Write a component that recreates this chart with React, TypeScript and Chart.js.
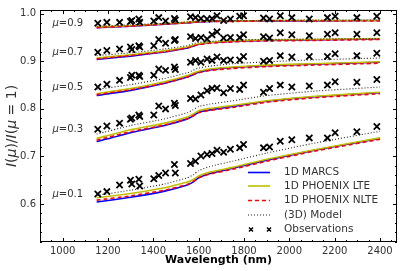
import React, { useEffect, useRef } from 'react';
import { Chart, registerables } from 'chart.js';

Chart.register(...registerables);

// ---------- data ----------
const MODEL_WL = [1150, 1300, 1450, 1550, 1575, 1600, 1650, 1750, 1900, 2100, 2400];

const MARCS_MU01 = [0.604, 0.614, 0.627, 0.640, 0.646, 0.655, 0.664, 0.675, 0.692, 0.712, 0.738];
const MARCS_MU03 = [0.731, 0.750, 0.765, 0.779, 0.785, 0.793, 0.798, 0.805, 0.816, 0.825, 0.834];
const MARCS_MU05 = [0.828, 0.839, 0.854, 0.867, 0.872, 0.877, 0.882, 0.887, 0.891, 0.894, 0.898];
const MARCS_MU07 = [0.904, 0.911, 0.920, 0.928, 0.932, 0.936, 0.939, 0.942, 0.944, 0.945, 0.947];
const MARCS_MU09 = [0.971, 0.974, 0.978, 0.981, 0.982, 0.983, 0.984, 0.985, 0.985, 0.985, 0.986];

const LTE_MU01 = [0.613, 0.622, 0.634, 0.646, 0.651, 0.659, 0.667, 0.677, 0.694, 0.713, 0.739];
const LTE_MU03 = [0.738, 0.756, 0.770, 0.783, 0.789, 0.796, 0.801, 0.807, 0.817, 0.826, 0.835];
const LTE_MU05 = [0.832, 0.843, 0.857, 0.870, 0.875, 0.879, 0.884, 0.888, 0.892, 0.895, 0.899];
const LTE_MU07 = [0.907, 0.914, 0.922, 0.930, 0.934, 0.937, 0.940, 0.943, 0.945, 0.946, 0.948];
const LTE_MU09 = [0.972, 0.975, 0.979, 0.982, 0.983, 0.984, 0.985, 0.985, 0.986, 0.986, 0.986];

const NLTE_MU01 = [0.608, 0.617, 0.629, 0.641, 0.647, 0.655, 0.663, 0.673, 0.690, 0.710, 0.736];
const NLTE_MU03 = [0.734, 0.752, 0.766, 0.779, 0.785, 0.792, 0.797, 0.803, 0.814, 0.823, 0.832];
const NLTE_MU05 = [0.830, 0.840, 0.854, 0.867, 0.872, 0.876, 0.881, 0.885, 0.889, 0.892, 0.896];
const NLTE_MU07 = [0.905, 0.912, 0.920, 0.928, 0.932, 0.935, 0.938, 0.941, 0.943, 0.944, 0.946];
const NLTE_MU09 = [0.971, 0.974, 0.978, 0.981, 0.982, 0.983, 0.984, 0.984, 0.985, 0.985, 0.985];

const M3D_MU01 = [0.618, 0.629, 0.642, 0.655, 0.661, 0.670, 0.679, 0.690, 0.707, 0.727, 0.753];
const M3D_MU03 = [0.747, 0.765, 0.779, 0.792, 0.798, 0.805, 0.810, 0.817, 0.828, 0.837, 0.846];
const M3D_MU05 = [0.841, 0.851, 0.864, 0.876, 0.881, 0.886, 0.890, 0.895, 0.899, 0.903, 0.907];
const M3D_MU07 = [0.912, 0.918, 0.926, 0.933, 0.937, 0.940, 0.942, 0.945, 0.946, 0.947, 0.948];
const M3D_MU09 = [0.974, 0.977, 0.980, 0.983, 0.984, 0.985, 0.986, 0.986, 0.986, 0.987, 0.987];

const OBS_WL = [1155, 1195, 1251, 1299, 1305, 1336, 1340, 1402, 1424, 1454, 1493, 1497, 1564, 1586,
  1610, 1637, 1659, 1681, 1710, 1740, 1781, 1798, 1886, 1913, 1960, 2011, 2088, 2168, 2202, 2298, 2386];

const OBS_MU01 = [0.621, 0.626, 0.640, 0.650, 0.642, 0.652, 0.638, 0.653, 0.660, 0.665, 0.683, 0.665, 0.685, 0.690,
  0.701, 0.704, 0.706, 0.713, 0.709, 0.715, 0.718, 0.725, 0.718, 0.720, 0.732, 0.735, 0.739, 0.739, 0.750, 0.752, 0.763];
const OBS_MU03 = [0.757, 0.764, 0.770, 0.778, 0.781, 0.787, 0.784, 0.787, 0.806, 0.800, 0.812, 0.807, 0.822, 0.821,
  0.829, 0.838, 0.843, 0.844, 0.834, 0.843, 0.841, 0.850, 0.835, 0.843, 0.850, 0.846, 0.848, 0.850, 0.857, 0.856, 0.862];
const OBS_MU05 = [0.846, 0.852, 0.860, 0.866, 0.871, 0.871, 0.868, 0.871, 0.884, 0.881, 0.888, 0.883, 0.898, 0.902,
  0.898, 0.905, 0.902, 0.909, 0.902, 0.903, 0.903, 0.910, 0.900, 0.902, 0.912, 0.909, 0.910, 0.910, 0.916, 0.912, 0.917];
const OBS_MU07 = [0.919, 0.923, 0.926, 0.930, 0.925, 0.933, 0.930, 0.933, 0.946, 0.938, 0.944, 0.946, 0.952, 0.948,
  0.950, 0.947, 0.956, 0.962, 0.949, 0.950, 0.950, 0.956, 0.952, 0.949, 0.960, 0.956, 0.954, 0.957, 0.960, 0.957, 0.960];
const OBS_MU09 = [0.980, 0.982, 0.982, 0.984, 0.986, 0.989, 0.982, 0.985, 0.992, 0.985, 0.990, 0.987, 0.994, 0.992,
  0.990, 0.989, 0.990, 0.996, 0.986, 0.989, 0.995, 0.996, 0.991, 0.989, 0.996, 0.992, 0.989, 0.992, 0.995, 0.992, 0.995];

const MU_VALUES = ['0.1', '0.3', '0.5', '0.7', '0.9'];
const X_TICKS = [1000, 1200, 1400, 1600, 1800, 2000, 2200, 2400];
const Y_TICKS = [0.6, 0.7, 0.8, 0.9, 1.0];
const LEGEND_LABELS = ['1D MARCS', '1D PHOENIX LTE', '1D PHOENIX NLTE', '(3D) Model', 'Observations'];

const MARCS = [MARCS_MU01, MARCS_MU03, MARCS_MU05, MARCS_MU07, MARCS_MU09];
const LTE = [LTE_MU01, LTE_MU03, LTE_MU05, LTE_MU07, LTE_MU09];
const NLTE = [NLTE_MU01, NLTE_MU03, NLTE_MU05, NLTE_MU07, NLTE_MU09];
const M3D = [M3D_MU01, M3D_MU03, M3D_MU05, M3D_MU07, M3D_MU09];
const OBS = [OBS_MU01, OBS_MU03, OBS_MU05, OBS_MU07, OBS_MU09];

// ---------- style ----------
const FONT = "'DejaVu Sans', 'Liberation Sans', sans-serif";
const TEXT = '#333333';
const C_BLUE = '#0000ff';
const C_YEL = '#bfbf00';
const C_RED = '#ff0000';
const C_BLACK = '#000000';

const pts = (xs: number[], ys: number[]) => xs.map((x, i) => ({ x, y: ys[i] }));

function buildDatasets() {
  const ds: any[] = [];
  for (let m = 0; m < MU_VALUES.length; m++) {
    ds.push({ label: 'MARCS', data: pts(MODEL_WL, MARCS[m]), borderColor: C_BLUE, borderWidth: 1.6, pointRadius: 0, showLine: true, tension: 0.15, order: 5 });
    ds.push({ label: 'LTE', data: pts(MODEL_WL, LTE[m]), borderColor: C_YEL, borderWidth: 1.6, pointRadius: 0, showLine: true, tension: 0.15, order: 4 });
    ds.push({ label: 'NLTE', data: pts(MODEL_WL, NLTE[m]), borderColor: C_RED, borderWidth: 1.6, borderDash: [4, 3], pointRadius: 0, showLine: true, tension: 0.15, order: 3 });
    ds.push({ label: '3D', data: pts(MODEL_WL, M3D[m]), borderColor: '#222', borderWidth: 1.1, borderDash: [1, 2], pointRadius: 0, showLine: true, tension: 0.15, order: 2 });
    ds.push({ label: 'Obs', data: pts(OBS_WL, OBS[m]), showLine: false, pointStyle: 'crossRot', pointRadius: 4.4, borderColor: C_BLACK, backgroundColor: C_BLACK, pointBorderWidth: 1.8, order: 1 });
  }
  return ds;
}

function drawCross(ctx: CanvasRenderingContext2D, x: number, y: number, h: number) {
  ctx.beginPath();
  ctx.moveTo(x - h, y - h); ctx.lineTo(x + h, y + h);
  ctx.moveTo(x - h, y + h); ctx.lineTo(x + h, y - h);
  ctx.stroke();
}

const decorPlugin = {
  id: 'decor',
  afterDraw(chart: any) {
    const ctx: CanvasRenderingContext2D = chart.ctx;
    const { left, right, top, bottom } = chart.chartArea;
    const xs = chart.scales.x;
    const ys = chart.scales.y;
    ctx.save();
    // frame
    ctx.strokeStyle = '#000';
    ctx.lineWidth = 1;
    ctx.strokeRect(left + 0.5, top + 0.5, right - left - 1, bottom - top - 1);
    // ticks (inside, all four sides)
    ctx.beginPath();
    for (let v = 900; v <= 2475; v += 50) {
      const p = Math.round(xs.getPixelForValue(v)) + 0.5;
      const major = X_TICKS.includes(v);
      const len = major ? 4 : 2;
      ctx.moveTo(p, bottom); ctx.lineTo(p, bottom - len);
      ctx.moveTo(p, top); ctx.lineTo(p, top + len);
    }
    for (let k = 26; k <= 50; k++) {
      const v = k * 0.02;
      const p = Math.round(ys.getPixelForValue(v)) + 0.5;
      const major = k % 5 === 0;
      const len = major ? 4 : 2;
      ctx.moveTo(left, p); ctx.lineTo(left + len, p);
      ctx.moveTo(right, p); ctx.lineTo(right - len, p);
    }
    ctx.stroke();

    // mu labels
    ctx.fillStyle = TEXT;
    ctx.textBaseline = 'middle';
    ctx.textAlign = 'left';
    const lx = xs.getPixelForValue(955);
    for (let m = 0; m < MU_VALUES.length; m++) {
      const y = ys.getPixelForValue(OBS[m][0]);
      ctx.font = `italic 10px ${FONT}`;
      ctx.fillText('μ', lx, y);
      const w = ctx.measureText('μ').width;
      ctx.font = `10px ${FONT}`;
      ctx.fillText('=' + MU_VALUES[m], lx + w, y);
    }

    // y axis title (mixed italics), rotated
    ctx.save();
    ctx.translate(12, (top + bottom) / 2);
    ctx.rotate(-Math.PI / 2);
    const parts: [string, boolean][] = [['I', true], ['(', false], ['μ', true], [')/', false], ['I', true], ['(', false], ['μ', true], [' = 1)', false]];
    let total = 0;
    for (const [t, it] of parts) {
      ctx.font = `${it ? 'italic ' : ''}14px ${FONT}`;
      total += ctx.measureText(t).width;
    }
    let cx = -total / 2;
    ctx.textAlign = 'left';
    ctx.fillStyle = TEXT;
    for (const [t, it] of parts) {
      ctx.font = `${it ? 'italic ' : ''}14px ${FONT}`;
      ctx.fillText(t, cx, 0);
      cx += ctx.measureText(t).width;
    }
    ctx.restore();

    // legend
    const hx0 = right - 149;
    const hx1 = right - 127;
    const tx = right - 113;
    const rowY = [bottom - 69.5, bottom - 56, bottom - 41.5, bottom - 27, bottom - 12.5];
    const styles = [
      { c: C_BLUE, d: [] as number[], w: 1.6 },
      { c: C_YEL, d: [] as number[], w: 1.6 },
      { c: C_RED, d: [4, 3], w: 1.6 },
      { c: '#222', d: [1, 2], w: 1.1 },
    ];
    for (let i = 0; i < 4; i++) {
      ctx.strokeStyle = styles[i].c;
      ctx.lineWidth = styles[i].w;
      ctx.setLineDash(styles[i].d);
      ctx.beginPath();
      ctx.moveTo(hx0, rowY[i]); ctx.lineTo(hx1, rowY[i]);
      ctx.stroke();
    }
    ctx.setLineDash([]);
    ctx.strokeStyle = '#000';
    ctx.lineWidth = 1.5;
    drawCross(ctx, hx0 + 3, rowY[4], 2);
    drawCross(ctx, hx1 - 1, rowY[4], 2);
    ctx.fillStyle = TEXT;
    ctx.font = `10.5px ${FONT}`;
    ctx.textAlign = 'left';
    ctx.textBaseline = 'middle';
    for (let i = 0; i < LEGEND_LABELS.length; i++) {
      ctx.fillText(LEGEND_LABELS[i], tx, rowY[i]);
    }
    ctx.restore();
  },
};

export default function App() {
  const ref = useRef<HTMLCanvasElement | null>(null);
  useEffect(() => {
    if (!ref.current) return;
    const chart = new Chart(ref.current, {
      type: 'scatter',
      data: { datasets: buildDatasets() },
      options: {
        animation: false,
        responsive: false,
        devicePixelRatio: 1,
        layout: { padding: { left: 0, right: 10, top: 7, bottom: 0 } },
        plugins: { legend: { display: false }, tooltip: { enabled: false } },
        scales: {
          x: {
            type: 'linear',
            min: 900,
            max: 2475,
            grid: { display: false, drawTicks: false },
            border: { display: false },
            afterBuildTicks: (s: any) => { s.ticks = X_TICKS.map((v) => ({ value: v })); },
            afterFit: (s: any) => { s.height = 29; },
            ticks: { font: { family: FONT, size: 10 }, color: TEXT, padding: 3, maxRotation: 0, autoSkip: false, callback: (v: any) => String(v) },
            title: { display: true, text: 'Wavelength (nm)', font: { family: FONT, size: 11, weight: 'bold' }, color: '#000', padding: { top: 0, bottom: 4 } },
          },
          y: {
            type: 'linear',
            min: 0.52,
            max: 1.008,
            grid: { display: false, drawTicks: false },
            border: { display: false },
            afterBuildTicks: (s: any) => { s.ticks = Y_TICKS.map((v) => ({ value: v })); },
            afterFit: (s: any) => { s.width = 40; },
            ticks: { font: { family: FONT, size: 10 }, color: TEXT, padding: 4, autoSkip: false, callback: (v: any) => Number(v).toFixed(1) },
          },
        },
      },
      plugins: [decorPlugin],
    } as any);
    return () => chart.destroy();
  }, []);
  return (
    <div style={{ position: 'fixed', left: 0, top: 0, width: 407, height: 271, background: '#fff' }}>
      <canvas ref={ref} width={407} height={271} style={{ width: 407, height: 271, display: 'block' }} />
    </div>
  );
}
